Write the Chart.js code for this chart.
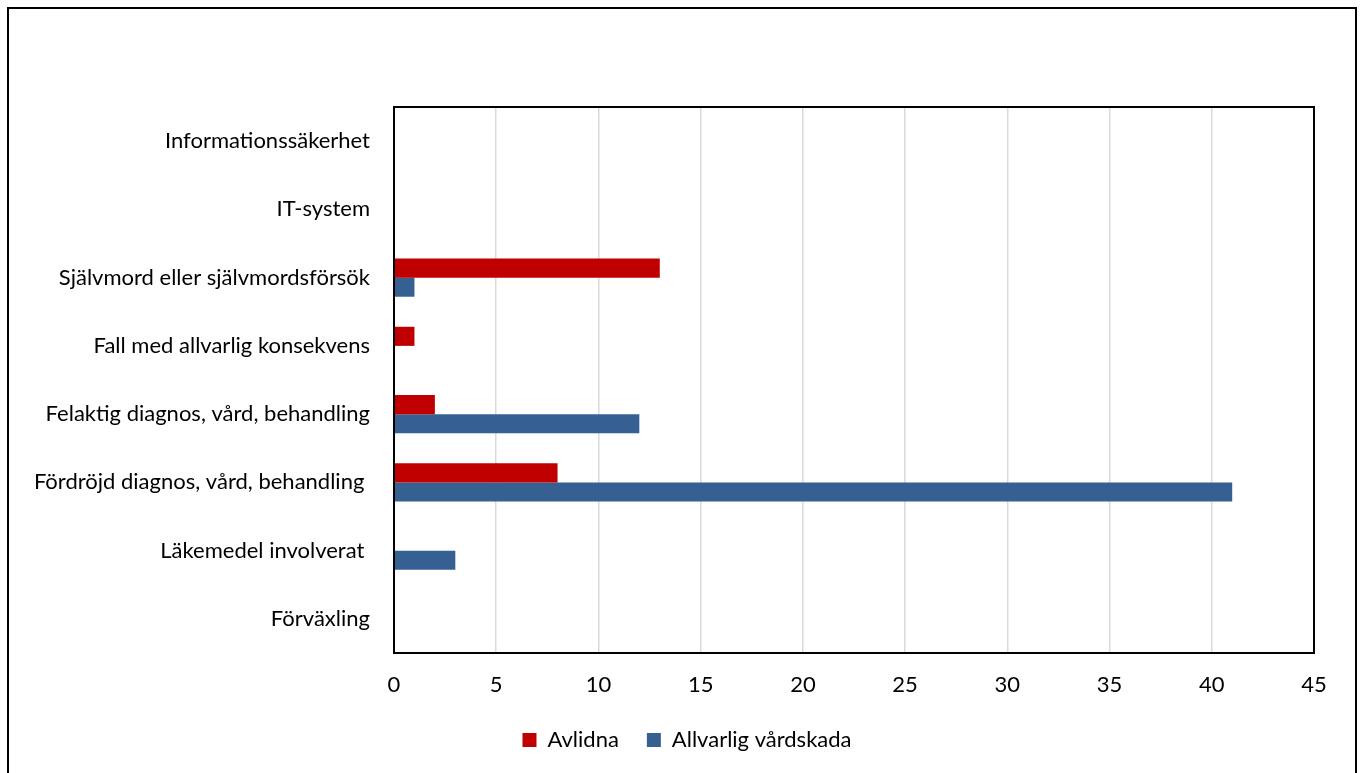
<!DOCTYPE html>
<html>
<head>
<meta charset="utf-8">
<script src="https://cdn.jsdelivr.net/npm/chart.js@4.4.1/dist/chart.umd.min.js"></script>
<style>
  body { margin: 0; background: #fff; }
  #wrap { position: relative; width: 1362px; height: 773px; overflow: hidden; }
  #frame { position: absolute; left: 7px; top: 7px; width: 1346px; height: 800px; border: 2px solid #000; }
  canvas { position: absolute; left: 0; top: 0; }
</style>
</head>
<body>
<div id="wrap">
  <div id="frame"></div>
  <canvas id="chart" width="1362" height="773"></canvas>
</div>
<script>
const categories = [
  "Informationssäkerhet",
  "IT-system",
  "Självmord eller självmordsförsök",
  "Fall med allvarlig konsekvens",
  "Felaktig diagnos, vård, behandling",
  "Fördröjd diagnos, vård, behandling ",
  "Läkemedel involverat ",
  "Förväxling"
];
const avlidna = [0, 0, 13, 1, 2, 8, 0, 0];
const allvarligVardskada = [0, 0, 1, 0, 12, 41, 3, 0];
const xTicks = [0, 5, 10, 15, 20, 25, 30, 35, 40, 45];

const FONT = "Lato, 'Open Sans', sans-serif";

// ram runt ritytan + flytta förklaringen lite åt höger
const plotBorder = {
  id: "plotBorder",
  afterLayout(chart) {
    chart.legend.left += 30;
    chart.legend.right += 30;
  },
  afterDraw(chart) {
    const { ctx, chartArea: a } = chart;
    ctx.save();
    ctx.strokeStyle = "#000";
    ctx.lineWidth = 2;
    ctx.strokeRect(a.left, a.top, a.right - a.left, a.bottom - a.top);
    ctx.restore();
  }
};

new Chart(document.getElementById("chart"), {
  type: "bar",
  data: {
    labels: categories,
    datasets: [
      { label: "Avlidna", data: avlidna, backgroundColor: "#C00000" },
      { label: "Allvarlig vårdskada", data: allvarligVardskada, backgroundColor: "#376092" }
    ]
  },
  options: {
    indexAxis: "y",
    responsive: false,
    animation: false,
    layout: { padding: { left: 0, right: 48, top: 107, bottom: 12 } },
    datasets: { bar: { categoryPercentage: 0.56, barPercentage: 1 } },
    scales: {
      x: {
        min: 0,
        max: 45,
        afterBuildTicks(scale) { scale.ticks = xTicks.map(v => ({ value: v })); },
        afterFit(scale) { scale.height = 48; },
        grid: { color: "#d9d9d9", lineWidth: 1.5, drawTicks: false },
        border: { display: false },
        ticks: { color: "#000", font: { family: FONT, size: 22 }, padding: 19 }
      },
      y: {
        afterFit(scale) { scale.width = 394; },
        grid: { display: false, drawTicks: false },
        border: { display: false },
        ticks: { color: "#000", font: { family: FONT, size: 22 }, padding: 24 }
      }
    },
    plugins: {
      legend: {
        position: "bottom",
        labels: {
          color: "#000",
          font: { family: FONT, size: 22 },
          boxWidth: 14,
          boxHeight: 14,
          padding: 28
        }
      },
      tooltip: { enabled: false }
    }
  },
  plugins: [plotBorder]
});
</script>
</body>
</html>
